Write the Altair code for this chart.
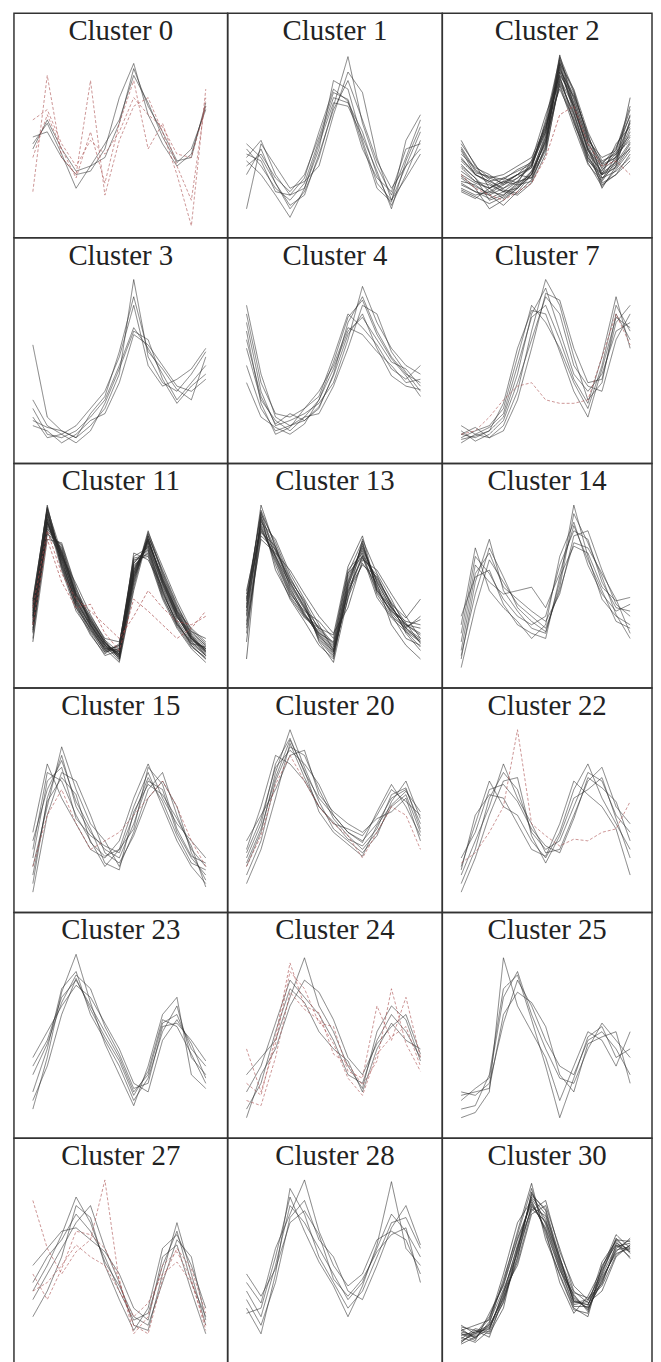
import altair as alt
import pandas as pd

# ---------------- data (values on a 0-100 scale, 13 time steps) ----------------
CLUSTERS = ["0", "1", "2", "3", "4", "7", "11", "13", "14",
            "15", "20", "22", "23", "24", "25", "27", "28", "30"]
DENSE = ["2", "11", "13", "30"]

C0_GRAY = [
    [48, 60, 42, 22, 35, 40, 60, 92, 70, 55, 38, 40, 72],
    [52, 55, 40, 30, 32, 45, 75, 95, 65, 48, 35, 42, 70],
    [45, 62, 45, 32, 35, 48, 62, 88, 72, 52, 37, 45, 68],
]
C0_RED = [
    [62, 68, 48, 35, 50, 42, 55, 75, 65, 58, 42, 40, 70],
    [20, 88, 40, 30, 85, 18, 50, 70, 75, 55, 30, 0, 80],
    [40, 65, 45, 28, 55, 25, 60, 85, 45, 60, 35, 15, 75],
]
C1_GRAY = [
    [40, 50, 30, 18, 22, 45, 85, 80, 50, 25, 15, 35, 55],
    [45, 35, 22, 15, 25, 50, 75, 72, 55, 30, 12, 30, 50],
    [30, 45, 25, 10, 20, 40, 70, 99, 60, 35, 18, 40, 62],
    [42, 38, 20, 18, 28, 55, 80, 73, 45, 28, 20, 45, 48],
    [10, 48, 35, 22, 26, 35, 65, 90, 78, 40, 15, 28, 42],
    [38, 30, 18, 5, 22, 48, 72, 70, 52, 32, 10, 38, 58],
    [35, 42, 28, 20, 30, 52, 78, 74, 48, 22, 14, 50, 65],
    [48, 40, 25, 12, 18, 42, 68, 85, 62, 38, 22, 35, 45],
]
C1_RED = []
C2_GRAY = [
    [50, 35, 28, 25, 30, 35, 55, 100, 70, 45, 35, 40, 60],
    [30, 25, 22, 28, 25, 30, 50, 92, 75, 50, 30, 38, 55],
    [25, 20, 18, 22, 28, 35, 60, 85, 65, 40, 28, 35, 48],
    [40, 30, 25, 20, 22, 30, 45, 95, 80, 55, 38, 42, 65],
    [35, 28, 15, 18, 25, 38, 65, 88, 60, 42, 32, 45, 70],
    [22, 18, 20, 25, 30, 28, 52, 90, 72, 48, 25, 30, 42],
    [45, 32, 28, 30, 35, 40, 58, 80, 62, 38, 30, 48, 58],
    [28, 22, 10, 15, 22, 32, 48, 97, 78, 52, 36, 40, 52],
    [32, 26, 24, 20, 18, 25, 42, 86, 70, 46, 22, 35, 62],
    [38, 30, 26, 28, 32, 36, 55, 93, 68, 44, 34, 42, 50],
    [26, 24, 18, 12, 20, 30, 50, 82, 58, 36, 26, 38, 45],
    [42, 34, 30, 24, 28, 34, 62, 98, 74, 50, 40, 44, 68],
    [20, 16, 22, 26, 24, 26, 46, 88, 76, 54, 28, 32, 40],
    [48, 36, 22, 26, 30, 38, 56, 94, 66, 40, 30, 36, 75],
    [36, 28, 20, 18, 24, 32, 52, 90, 70, 44, 30, 34, 46],
    [44, 30, 26, 22, 26, 36, 60, 96, 72, 48, 36, 46, 64],
    [24, 20, 16, 20, 26, 28, 44, 84, 66, 42, 24, 30, 38],
    [34, 26, 22, 16, 22, 30, 54, 91, 77, 53, 33, 39, 57],
    [29, 23, 19, 24, 30, 34, 58, 87, 63, 39, 27, 41, 61],
    [46, 33, 27, 21, 19, 27, 47, 99, 79, 51, 37, 43, 53],
    [21, 17, 13, 17, 23, 31, 49, 83, 61, 37, 23, 33, 44],
    [39, 31, 29, 27, 33, 37, 57, 95, 69, 45, 31, 37, 49],
]
C2_RED = [
    [30, 22, 18, 15, 20, 25, 40, 65, 70, 48, 35, 38, 30],
]
C3_GRAY = [
    [62, 20, 12, 8, 15, 25, 45, 100, 55, 40, 35, 45, 58],
    [25, 10, 8, 12, 20, 30, 50, 72, 60, 45, 30, 40, 50],
    [15, 12, 5, 10, 18, 22, 40, 68, 62, 50, 38, 35, 42],
    [20, 8, 10, 15, 25, 35, 55, 85, 50, 38, 42, 48, 60],
    [30, 15, 10, 5, 12, 28, 48, 70, 65, 42, 28, 38, 45],
    [18, 14, 12, 8, 22, 32, 58, 90, 58, 48, 36, 30, 55],
]
C3_RED = []
C4_GRAY = [
    [85, 45, 20, 15, 18, 25, 45, 75, 90, 70, 55, 45, 40],
    [75, 35, 15, 18, 22, 28, 40, 65, 96, 75, 60, 50, 45],
    [60, 30, 18, 12, 20, 30, 48, 70, 78, 65, 52, 48, 38],
    [80, 40, 22, 20, 25, 32, 55, 80, 72, 62, 48, 42, 50],
    [50, 25, 12, 15, 20, 22, 38, 60, 85, 80, 58, 46, 35],
    [70, 28, 10, 14, 25, 35, 50, 72, 68, 58, 50, 40, 42],
    [65, 32, 16, 22, 18, 26, 44, 68, 80, 60, 44, 38, 36],
    [40, 20, 14, 10, 16, 30, 52, 78, 88, 68, 54, 44, 32],
]
C4_RED = []
C7_GRAY = [
    [10, 8, 12, 20, 45, 80, 95, 70, 45, 35, 45, 70, 75],
    [15, 10, 8, 15, 35, 70, 100, 85, 55, 30, 40, 80, 65],
    [8, 12, 15, 25, 55, 85, 75, 60, 40, 25, 50, 85, 70],
    [12, 6, 10, 18, 40, 65, 90, 80, 50, 38, 35, 65, 80],
    [5, 10, 14, 22, 50, 78, 85, 65, 42, 28, 55, 90, 60],
    [10, 14, 8, 12, 30, 60, 92, 88, 60, 40, 42, 75, 85],
    [7, 9, 12, 28, 60, 82, 80, 58, 35, 20, 48, 78, 72],
]
C7_RED = [
    [10, 12, 20, 30, 38, 40, 30, 28, 28, 30, 55, 80, 62],
]
C11_GRAY = [
    [35, 95, 70, 45, 30, 18, 12, 60, 80, 55, 35, 22, 15],
    [40, 100, 65, 40, 28, 15, 18, 70, 75, 50, 30, 20, 12],
    [30, 85, 75, 50, 32, 20, 10, 55, 85, 60, 40, 25, 18],
    [25, 90, 68, 42, 25, 12, 15, 65, 72, 48, 32, 18, 10],
    [45, 98, 72, 48, 35, 22, 20, 58, 78, 58, 38, 28, 20],
    [20, 80, 78, 52, 30, 16, 8, 50, 82, 62, 42, 24, 14],
    [38, 92, 62, 38, 26, 14, 16, 68, 70, 45, 28, 16, 8],
    [32, 88, 74, 46, 34, 19, 13, 62, 76, 54, 36, 21, 16],
    [42, 96, 66, 44, 29, 17, 11, 72, 68, 52, 34, 26, 22],
    [28, 84, 70, 54, 36, 21, 14, 56, 80, 56, 38, 23, 12],
    [36, 94, 64, 40, 24, 13, 19, 66, 74, 50, 31, 19, 17],
    [22, 86, 76, 48, 31, 18, 9, 52, 84, 64, 44, 27, 19],
    [44, 99, 68, 43, 27, 16, 17, 64, 73, 47, 29, 17, 11],
    [34, 90, 72, 47, 33, 20, 12, 61, 79, 57, 37, 22, 14],
    [33, 93, 69, 46, 31, 18, 13, 59, 81, 56, 36, 23, 15],
    [37, 97, 67, 42, 28, 16, 15, 66, 76, 51, 33, 20, 13],
    [27, 87, 73, 49, 33, 20, 11, 57, 83, 59, 39, 24, 17],
    [41, 91, 65, 43, 30, 17, 14, 63, 77, 53, 35, 21, 14],
    [31, 89, 71, 48, 32, 19, 12, 60, 79, 55, 37, 22, 16],
    [39, 95, 70, 44, 29, 15, 16, 67, 74, 49, 31, 19, 12],
    [26, 83, 77, 51, 34, 21, 10, 54, 82, 61, 41, 26, 18],
    [43, 98, 63, 41, 27, 14, 18, 69, 71, 46, 30, 18, 10],
    [35, 92, 71, 45, 30, 18, 12, 62, 78, 54, 35, 22, 15],
    [30, 90, 73, 47, 32, 19, 13, 58, 80, 57, 38, 23, 16],
]
C11_RED = [
    [40, 85, 60, 45, 38, 30, 22, 35, 50, 40, 32, 30, 35],
    [30, 80, 55, 40, 42, 25, 15, 45, 38, 30, 22, 28, 38],
]
C13_GRAY = [
    [40, 100, 75, 55, 40, 28, 18, 55, 75, 55, 40, 30, 25],
    [35, 90, 80, 60, 45, 30, 15, 45, 80, 60, 45, 28, 20],
    [45, 85, 70, 50, 35, 25, 20, 60, 70, 50, 38, 32, 30],
    [10, 95, 78, 58, 42, 22, 12, 50, 65, 58, 42, 25, 15],
    [50, 88, 68, 48, 38, 32, 22, 62, 72, 48, 35, 28, 35],
    [30, 80, 72, 62, 48, 35, 25, 40, 68, 62, 48, 35, 22],
    [38, 92, 65, 45, 32, 18, 10, 52, 78, 52, 36, 22, 18],
    [42, 97, 76, 52, 36, 26, 16, 58, 74, 56, 42, 34, 45],
    [25, 82, 74, 56, 44, 20, 8, 46, 66, 54, 30, 18, 10],
    [48, 94, 62, 46, 34, 28, 24, 64, 82, 50, 40, 30, 28],
    [32, 86, 70, 54, 40, 24, 14, 48, 70, 46, 34, 26, 20],
    [36, 91, 73, 53, 39, 25, 15, 53, 73, 53, 39, 28, 22],
    [44, 96, 69, 49, 36, 24, 14, 56, 76, 55, 40, 30, 24],
    [28, 84, 76, 57, 43, 27, 17, 49, 71, 57, 43, 31, 19],
    [40, 89, 71, 51, 37, 23, 13, 54, 77, 51, 37, 27, 21],
    [20, 93, 74, 55, 41, 21, 11, 51, 69, 59, 41, 26, 17],
    [46, 87, 67, 47, 35, 29, 19, 60, 79, 49, 38, 29, 33],
]
C13_RED = []
C14_GRAY = [
    [10, 55, 80, 50, 38, 28, 25, 55, 100, 70, 45, 35, 30],
    [25, 70, 60, 45, 35, 30, 35, 65, 85, 80, 55, 40, 38],
    [5, 40, 68, 55, 42, 35, 28, 50, 78, 75, 60, 45, 25],
    [30, 75, 50, 40, 32, 22, 30, 70, 90, 65, 48, 38, 42],
    [15, 60, 72, 52, 45, 38, 32, 48, 82, 85, 62, 42, 35],
    [20, 65, 55, 48, 50, 52, 40, 60, 88, 68, 50, 32, 28],
    [35, 58, 62, 42, 30, 25, 22, 58, 76, 72, 52, 44, 46],
    [12, 48, 75, 58, 40, 32, 26, 52, 95, 78, 58, 36, 22],
]
C14_RED = []
C15_GRAY = [
    [10, 60, 85, 55, 40, 30, 25, 45, 70, 65, 40, 25, 15],
    [30, 75, 70, 50, 35, 20, 30, 55, 75, 55, 35, 20, 10],
    [20, 55, 90, 65, 45, 35, 20, 40, 65, 75, 50, 30, 20],
    [40, 80, 60, 45, 30, 25, 35, 60, 80, 60, 45, 35, 25],
    [5, 50, 75, 70, 50, 28, 22, 38, 60, 70, 55, 28, 12],
    [25, 70, 78, 48, 38, 32, 28, 50, 72, 58, 38, 22, 18],
    [35, 65, 82, 58, 42, 22, 18, 52, 68, 62, 48, 32, 8],
    [15, 58, 72, 62, 34, 26, 30, 42, 78, 68, 42, 26, 22],
]
C15_RED = [
    [20, 50, 65, 45, 30, 35, 40, 50, 60, 70, 55, 35, 20],
]
C20_GRAY = [
    [25, 45, 80, 95, 75, 60, 50, 40, 35, 45, 60, 65, 45],
    [15, 35, 70, 90, 85, 65, 48, 38, 30, 40, 55, 62, 40],
    [30, 55, 85, 80, 70, 55, 45, 42, 38, 50, 65, 58, 50],
    [20, 40, 75, 100, 78, 58, 42, 35, 28, 38, 58, 70, 48],
    [35, 50, 65, 85, 88, 62, 52, 45, 40, 48, 52, 60, 35],
    [10, 30, 60, 92, 72, 55, 46, 36, 32, 42, 62, 66, 42],
    [28, 48, 78, 88, 80, 68, 50, 40, 34, 52, 68, 55, 38],
    [22, 42, 72, 94, 76, 52, 40, 33, 26, 44, 56, 64, 52],
]
C20_RED = [
    [20, 38, 68, 85, 70, 55, 45, 38, 25, 40, 55, 50, 30],
]
C22_GRAY = [
    [10, 30, 60, 75, 65, 40, 30, 35, 55, 75, 70, 50, 40],
    [20, 45, 70, 55, 50, 35, 25, 40, 65, 80, 60, 45, 30],
    [15, 35, 55, 80, 60, 45, 28, 30, 50, 70, 78, 55, 45],
    [5, 25, 50, 70, 72, 38, 22, 38, 60, 65, 72, 48, 25],
    [25, 40, 65, 68, 58, 42, 32, 28, 48, 72, 66, 58, 35],
    [18, 50, 62, 60, 45, 30, 26, 45, 70, 62, 55, 42, 15],
]
C22_RED = [
    [22, 28, 40, 55, 100, 45, 38, 32, 36, 35, 40, 42, 58],
]
C23_GRAY = [
    [35, 50, 75, 85, 70, 55, 40, 20, 30, 60, 65, 45, 35],
    [20, 45, 80, 90, 65, 50, 35, 15, 28, 55, 70, 40, 30],
    [40, 55, 70, 82, 75, 60, 45, 25, 20, 50, 62, 48, 28],
    [10, 40, 78, 100, 72, 48, 30, 12, 35, 65, 75, 30, 22],
    [30, 48, 72, 88, 80, 58, 42, 22, 25, 58, 60, 50, 38],
    [15, 35, 65, 86, 68, 52, 38, 18, 32, 62, 58, 42, 25],
]
C23_RED = []
C24_GRAY = [
    [20, 35, 60, 85, 75, 65, 50, 30, 25, 50, 65, 55, 40],
    [10, 25, 55, 80, 72, 55, 45, 38, 20, 45, 60, 50, 45],
    [30, 40, 50, 75, 98, 70, 55, 35, 22, 55, 70, 62, 38],
    [5, 30, 45, 70, 85, 78, 62, 40, 30, 48, 58, 65, 42],
]
C24_RED = [
    [45, 20, 48, 90, 80, 60, 58, 32, 28, 70, 50, 75, 40],
    [15, 12, 40, 78, 68, 62, 48, 28, 18, 42, 52, 58, 35],
    [25, 18, 52, 95, 70, 66, 42, 36, 24, 38, 80, 48, 32],
]
C25_GRAY = [
    [20, 18, 25, 60, 85, 70, 50, 35, 30, 50, 55, 45, 30],
    [15, 22, 28, 75, 90, 65, 45, 28, 25, 45, 60, 50, 40],
    [5, 8, 20, 98, 70, 55, 40, 15, 35, 55, 50, 35, 55],
    [18, 20, 22, 65, 78, 72, 58, 30, 20, 48, 52, 55, 25],
    [10, 12, 30, 80, 88, 62, 35, 5, 28, 52, 58, 40, 45],
]
C25_RED = []
C27_GRAY = [
    [40, 55, 65, 80, 70, 55, 35, 18, 22, 50, 70, 40, 20],
    [30, 45, 60, 75, 85, 60, 40, 15, 12, 45, 75, 45, 15],
    [50, 60, 70, 72, 65, 58, 45, 25, 18, 55, 62, 35, 10],
    [20, 35, 55, 85, 78, 50, 30, 12, 25, 60, 68, 50, 25],
    [35, 50, 68, 90, 75, 52, 38, 20, 15, 40, 65, 55, 18],
]
C27_RED = [
    [88, 60, 45, 58, 65, 100, 40, 15, 10, 42, 60, 48, 22],
    [35, 40, 50, 62, 55, 50, 35, 20, 28, 45, 52, 40, 15],
    [45, 30, 48, 70, 68, 60, 42, 10, 20, 50, 58, 42, 12],
]
C28_GRAY = [
    [35, 20, 50, 85, 75, 60, 45, 30, 40, 60, 80, 70, 55],
    [25, 10, 45, 95, 80, 55, 40, 25, 35, 55, 75, 78, 60],
    [40, 28, 60, 80, 100, 70, 50, 38, 45, 65, 70, 65, 45],
    [30, 15, 40, 78, 88, 65, 55, 35, 30, 50, 72, 85, 62],
    [22, 25, 55, 90, 70, 52, 38, 20, 38, 62, 99, 60, 50],
    [45, 32, 48, 75, 82, 68, 42, 32, 42, 58, 68, 72, 40],
]
C28_RED = []
C30_GRAY = [
    [10, 8, 15, 30, 55, 85, 75, 50, 30, 25, 40, 60, 65],
    [5, 12, 10, 25, 60, 90, 80, 55, 28, 30, 45, 65, 58],
    [15, 10, 20, 40, 70, 98, 65, 45, 25, 20, 50, 62, 55],
    [8, 5, 12, 35, 50, 80, 85, 60, 35, 28, 35, 55, 62],
    [12, 15, 18, 45, 75, 88, 70, 40, 22, 32, 48, 68, 60],
    [6, 10, 14, 28, 58, 92, 82, 52, 32, 24, 42, 58, 66],
    [10, 6, 22, 38, 65, 86, 72, 48, 26, 26, 52, 64, 54],
    [14, 12, 8, 32, 52, 82, 88, 58, 38, 30, 38, 56, 62],
    [4, 8, 16, 42, 68, 95, 68, 44, 24, 22, 46, 66, 57],
    [9, 11, 13, 33, 62, 89, 77, 51, 29, 27, 44, 61, 63],
    [13, 7, 17, 36, 57, 84, 79, 53, 31, 25, 41, 59, 61],
    [7, 13, 11, 29, 54, 93, 74, 49, 27, 29, 47, 63, 59],
    [11, 9, 19, 39, 66, 87, 71, 47, 33, 23, 49, 65, 64],
    [5, 11, 15, 31, 59, 91, 83, 55, 29, 27, 43, 57, 60],
    [12, 8, 13, 34, 61, 83, 76, 54, 34, 31, 39, 62, 58],
]
C30_RED = []

GRAY = {"0": C0_GRAY, "1": C1_GRAY, "2": C2_GRAY, "3": C3_GRAY, "4": C4_GRAY,
        "7": C7_GRAY, "11": C11_GRAY, "13": C13_GRAY, "14": C14_GRAY,
        "15": C15_GRAY, "20": C20_GRAY, "22": C22_GRAY, "23": C23_GRAY,
        "24": C24_GRAY, "25": C25_GRAY, "27": C27_GRAY, "28": C28_GRAY,
        "30": C30_GRAY}
RED = {"0": C0_RED, "1": C1_RED, "2": C2_RED, "3": C3_RED, "4": C4_RED,
       "7": C7_RED, "11": C11_RED, "13": C13_RED, "14": C14_RED,
       "15": C15_RED, "20": C20_RED, "22": C22_RED, "23": C23_RED,
       "24": C24_RED, "25": C25_RED, "27": C27_RED, "28": C28_RED,
       "30": C30_RED}

COL_W = [215, 216, 211]
ROW_H = [226, 227, 226, 226, 227, 226]


def panel(name, w, h):
    rows = []
    for k, s in enumerate(GRAY[name]):
        for i, v in enumerate(s):
            rows.append({"line": f"g{k:02d}", "kind": "gray", "t": i, "v": v})
    for k, s in enumerate(RED[name]):
        for i, v in enumerate(s):
            rows.append({"line": f"r{k:02d}", "kind": "red", "t": i, "v": v})
    df = pd.DataFrame(rows)
    op = 0.75 if name in DENSE else 0.65
    lines = alt.Chart(df).mark_line(strokeWidth=0.9, opacity=op).encode(
        x=alt.X("t:Q", axis=None,
                scale=alt.Scale(domain=[0, 12], range=[19, w - 22], nice=False, zero=False)),
        y=alt.Y("v:Q", axis=None,
                scale=alt.Scale(domain=[0, 100], range=[h - 12, 42], nice=False, zero=False)),
        detail="line:N",
        color=alt.Color("kind:N", legend=None,
                        scale=alt.Scale(domain=["gray", "red"], range=["#2a2a2a", "#a84a4a"])),
        strokeDash=alt.StrokeDash("kind:N", legend=None,
                                  scale=alt.Scale(domain=["gray", "red"], range=[[1, 0], [3, 2]])),
        order="t:Q",
    )
    title = alt.Chart(pd.DataFrame({"label": [f"Cluster {name}"]})).mark_text(
        font="Liberation Serif", fontSize=29, baseline="top", align="center", color="#222222"
    ).encode(text="label:N", x=alt.value(w / 2), y=alt.value(4))
    return alt.layer(lines, title).properties(width=w, height=h)


cells = []
for r in range(6):
    for c in range(3):
        cells.append(panel(CLUSTERS[r * 3 + c], COL_W[c], ROW_H[r]))

chart = alt.concat(*cells, columns=3, spacing=0, bounds="flush").properties(
    padding={"left": 5, "top": 0, "right": 0, "bottom": 0}
).configure_view(stroke="#333333", strokeWidth=1.5).configure_concat(spacing=0)

chart.save("out.html", embed_options={"renderer": "svg", "actions": False})
